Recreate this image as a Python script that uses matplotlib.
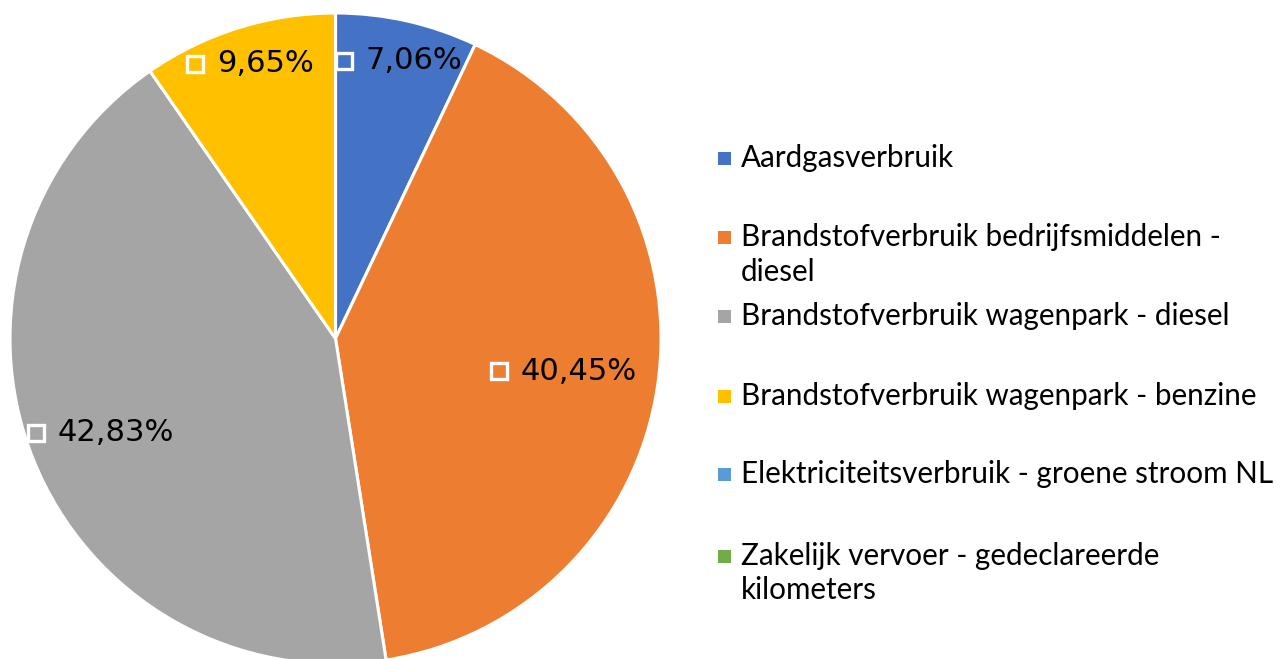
import matplotlib
matplotlib.use("Agg")
import matplotlib.pyplot as plt
import numpy as np

#### Data ####
categories = [
    "Aardgasverbruik",
    "Brandstofverbruik bedrijfsmiddelen -\ndiesel",
    "Brandstofverbruik wagenpark - diesel",
    "Brandstofverbruik wagenpark - benzine",
    "Elektriciteitsverbruik - groene stroom NL",
    "Zakelijk vervoer - gedeclareerde\nkilometers",
]
shares = [7.06, 40.45, 42.83, 9.65, 0.0, 0.0]
colors = ["#4472C4", "#ED7D31", "#A5A5A5", "#FFC000", "#5B9BD5", "#70AD47"]
# radial position of each data label (fraction of radius), Excel "best fit"
label_radius = [0.875, 0.705, 0.78, 0.885, 0.0, 0.0]

W, H = 1284, 659
fig = plt.figure(figsize=(W / 100, H / 100), dpi=100)
fig.patch.set_facecolor("white")

# Pie axes (pixel based placement)
cx, cy, r = 335.5, 659 - 338.5, 325.5
ax = fig.add_axes([(cx - r) / W, (cy - r) / H, 2 * r / W, 2 * r / H])

wedges, _ = ax.pie(
    shares,
    colors=colors,
    startangle=90,
    counterclock=False,
    radius=1,
    wedgeprops=dict(edgecolor="white", linewidth=2.2),
)
for w in wedges:
    w.set_clip_on(False)
ax.set_xlim(-1, 1)
ax.set_ylim(-1, 1)
ax.set_aspect("equal")
ax.axis("off")

# Data labels: small square key + percentage
fig.canvas.draw()
renderer = fig.canvas.get_renderer()
total = sum(shares)
start = 90.0
for val, col, lr in zip(shares, colors, label_radius):
    span = val / total * 360
    mid = np.deg2rad(start - span / 2)
    start -= span
    if val <= 0:
        continue
    x, y = lr * np.cos(mid), lr * np.sin(mid)
    txt = ax.text(0, 0, f"{val:.2f}".replace(".", ",") + "%", fontsize=22,
                  family="DejaVu Sans", va="center", ha="left", color="black")
    bb = txt.get_window_extent(renderer)
    tw = bb.width / r  # in data units
    key = 20 / r
    gap = 12 / r
    left = x - (key + gap + tw) / 2
    txt.set_position((left + key + gap, y))
    ax.plot(left + key / 2, y, marker="s", markersize=12.2, markerfacecolor=col,
            markeredgecolor="white", markeredgewidth=2.4, clip_on=False)

# Legend drawn manually to follow Excel spacing
legend_rows = [158, 254.5, 316, 396, 474, 573]
for name, col, yrow in zip(categories, colors, legend_rows):
    nlines = name.count("\n") + 1
    ytop = yrow - (nlines - 1) * 35 / 2
    fig.patches.append(plt.Rectangle((718 / W, 1 - (ytop + 7) / H), 13 / W, 13 / H,
                                     transform=fig.transFigure, facecolor=col,
                                     edgecolor="none"))
    fig.text(741 / W, 1 - yrow / H, name, fontsize=21.3, family="Lato",
             va="center", ha="left", color="black", linespacing=1.3)

fig.savefig("out.png", dpi=100, facecolor="white")
